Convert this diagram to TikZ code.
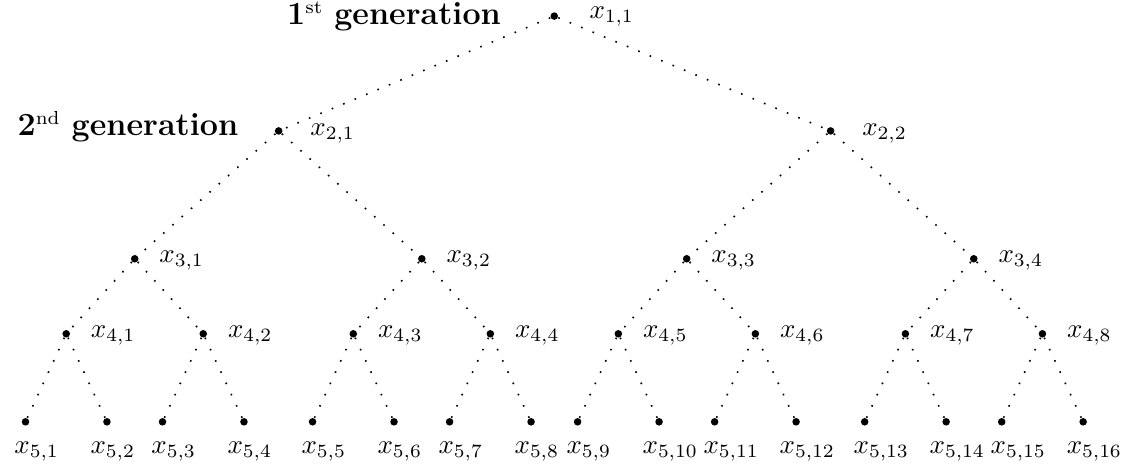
\documentclass[tikz,border=0pt]{standalone}
\usetikzlibrary{positioning}

\begin{document}
\begin{tikzpicture}[
        vtx/.style={circle, fill, inner sep=0pt, minimum size=2.8pt},
        link/.style={loosely dotted, semithick},
        lbl/.style={inner sep=0pt, yshift=-0.8pt},
        leaf/.style={inner sep=0pt, anchor=north west, yshift=-7.4pt},
        gen/.style={inner sep=0pt, anchor=base east, font=\large\bfseries}
    ]
    \useasboundingbox (0,0) rectangle (14.80,-6.14);

    % --- 1st generation ---
    \node[vtx] (x1-1) at (7.24, -0.21) {};
    \node[lbl, right=11.3pt of x1-1, yshift=0.8pt] (t1-1) {$x_{1,1}$};
    \node[gen] (g1) at ([xshift=-0.69cm, yshift=-0.11cm]x1-1)
        {1\raisebox{4pt}{\fontsize{7}{8}\selectfont\mdseries st} generation};

    % --- 2nd generation ---
    \foreach \i/\x in {1/3.64, 2/10.85} {
        \node[vtx] (x2-\i) at (\x, -1.71) {};
        \node[lbl, right=10pt of x2-\i] (t2-\i) {$x_{2,\i}$};
        \draw[link] (x1-1) -- (x2-\i);
    }
    \node[gen] (g2) at ([xshift=-0.52cm, yshift=-0.06cm]x2-1)
        {2\raisebox{4pt}{\fontsize{7}{8}\selectfont\mdseries nd} generation};

    % --- levels 3 and 4 ---
    \foreach \i/\x [evaluate=\i as \p using int((\i+1)/2)]
        in {1/1.76, 2/5.51, 3/8.97, 4/12.72} {
        \node[vtx] (x3-\i) at (\x, -3.38) {};
        \node[lbl, right=7.4pt of x3-\i] (t3-\i) {$x_{3,\i}$};
        \draw[link] (x2-\p) -- (x3-\i);
    }
    \foreach \i/\x [evaluate=\i as \p using int((\i+1)/2)]
        in {1/0.865, 2/2.655, 3/4.615, 4/6.405, 5/8.077, 6/9.867, 7/11.827, 8/13.617} {
        \node[vtx] (x4-\i) at (\x, -4.36) {};
        \node[lbl, right=7.4pt of x4-\i] (t4-\i) {$x_{4,\i}$};
        \draw[link] (x3-\p) -- (x4-\i);
    }

    % --- leaves, left children sit a bit further right ---
    \foreach \i/\x [evaluate=\i as \p using int((\i+1)/2),
                    evaluate=\i as \s using {isodd(\i) ? -4.3 : -6.3}]
        in {1/0.333, 2/1.397, 3/2.123, 4/3.187, 5/4.083, 6/5.147, 7/5.873, 8/6.937,
            9/7.545, 10/8.609, 11/9.335, 12/10.399, 13/11.295, 14/12.359, 15/13.085, 16/14.149} {
        \node[vtx] (x5-\i) at (\x, -5.51) {};
        \node[leaf, xshift=\s pt] (t5-\i) at (x5-\i) {$x_{5,\i}$};
        \draw[link] (x4-\p) -- (x5-\i);
    }
\end{tikzpicture}
\end{document}
